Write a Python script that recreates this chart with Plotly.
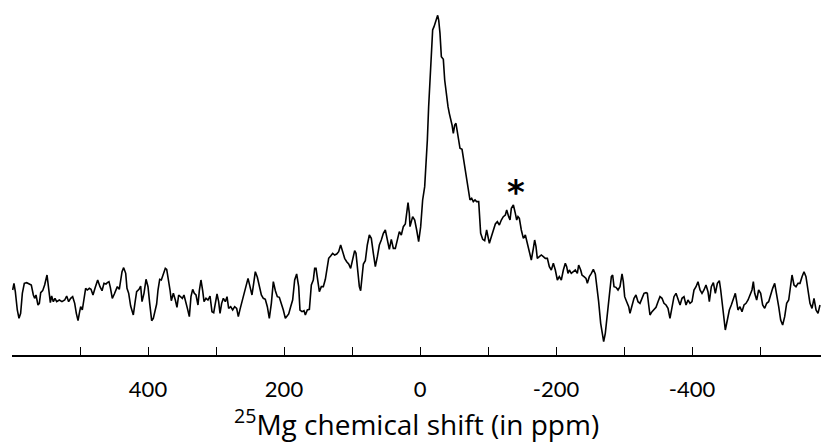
import plotly.graph_objects as go

# 25Mg chemical shift (ppm) and intensity (arbitrary units)
ppm = [
    599.0, 597.1, 595.1, 592.2, 589.7, 587.3, 584.8, 581.9, 578.4, 574.5, 571.6, 568.6, 566.7, 564.7,
    561.8, 559.8, 557.8, 554.9, 552.0, 548.5, 546.1, 543.6, 541.7, 539.2, 536.8, 534.3, 530.4, 526.5,
    522.5, 519.6, 516.7, 513.7, 510.8, 507.8, 505.4, 502.9, 501.0, 499.0, 496.6, 494.1, 491.7, 489.2,
    486.3, 483.8, 480.9, 477.5, 474.0, 470.6, 467.6, 464.7, 461.8, 459.8, 457.4, 455.4, 452.5, 449.5,
    447.1, 445.1, 442.2, 440.2, 438.2, 435.8, 432.8, 430.9, 428.4, 425.5, 421.6, 419.1, 416.7, 413.2,
    410.8, 408.8, 405.9, 402.9, 400.0, 397.5, 394.6, 392.2, 389.2, 387.3, 385.3, 382.8, 380.4, 377.5,
    374.5, 372.5, 369.6, 367.6, 365.7, 362.7, 359.8, 357.4, 354.9, 352.0, 349.5, 347.1, 344.1, 341.7,
    339.2, 336.8, 334.3, 331.9, 329.4, 326.5, 324.5, 322.1, 319.6, 317.6, 314.7, 311.8, 308.8, 305.9,
    303.4, 301.0, 298.5, 296.1, 294.1, 291.7, 289.2, 286.3, 283.8, 281.4, 278.4, 275.5, 272.5, 269.6,
    267.2, 264.7, 262.3, 258.8, 255.9, 252.9, 250.0, 247.1, 244.6, 242.2, 239.2, 236.3, 233.3, 230.4,
    227.5, 224.5, 221.6, 218.6, 215.7, 212.7, 209.8, 206.9, 203.9, 201.0, 198.0, 195.1, 193.1, 190.2,
    187.3, 184.3, 181.4, 178.4, 176.5, 173.5, 170.6, 168.6, 165.7, 162.7, 159.8, 156.9, 154.9, 152.9,
    151.0, 148.0, 145.1, 142.2, 139.2, 137.3, 134.3, 131.4, 128.4, 125.5, 122.5, 119.6, 116.7, 113.7,
    110.8, 107.8, 104.9, 102.0, 99.0, 96.1, 94.1, 92.2, 89.2, 87.3, 85.3, 83.3, 80.4, 77.5,
    74.5, 71.6, 68.6, 65.7, 62.7, 59.8, 56.9, 53.9, 51.0, 48.0, 45.1, 42.2, 39.2, 36.3,
    33.3, 30.4, 27.5, 24.5, 21.6, 19.6, 17.6, 15.7,
    14.7, 10.8, 7.8, 4.9, 2.0, -1.0, -3.9, -6.9, -8.8, -10.8, -12.7, -14.7, -16.7, -18.6,
    -20.6, -22.5, -24.5, -26.0, -27.5, -29.4, -31.4, -34.3, -36.3, -38.2, -41.2, -43.1, -45.1, -47.1,
    -49.0, -51.0, -52.9, -54.9, -56.9, -58.8, -61.8, -63.7, -66.2, -68.6, -71.1, -73.5, -76.0, -78.4,
    -80.9, -83.3, -86.3, -87.3, -89.2, -92.2, -95.1, -98.0, -100.0, -102.0, -104.9, -107.8, -110.8, -113.7,
    -116.7, -119.6, -122.5, -125.5, -127.5, -130.4, -132.4, -134.3, -137.3, -140.2, -142.2, -144.1, -146.1, -149.0,
    -152.0, -154.9, -157.8, -160.8, -163.7, -166.7, -168.6, -170.6, -172.5, -175.5, -178.4, -181.4, -184.3, -187.3,
    -190.2, -193.1, -196.1, -199.0, -202.0, -204.9, -207.8, -210.8, -213.7, -215.7, -217.6, -219.6, -222.5, -225.5,
    -228.4, -231.4, -233.3, -236.3, -238.2, -241.2, -244.1, -246.1, -249.0, -252.0, -254.9, -257.8, -259.8, -262.7,
    -265.7, -268.1, -270.1, -272.5, -275.5, -278.4, -281.4, -283.3, -285.3, -288.2, -291.2, -294.1, -297.1, -299.0,
    -301.0, -303.9, -306.9, -308.8, -311.8, -314.7, -317.6, -320.6, -323.5, -326.5, -329.4, -332.4, -334.3, -336.3,
    -338.2, -341.2, -344.1, -347.1, -350.0, -352.9, -355.9, -358.8, -361.8, -364.7, -367.6, -370.6, -373.5, -376.5,
    -379.4, -382.4, -385.3, -388.2, -391.2, -394.1, -397.1, -400.0, -402.9, -405.9, -408.8, -411.8, -414.7, -417.6,
    -420.6, -423.5, -425.5, -428.4, -431.4, -434.3, -437.3, -440.2, -442.2, -444.1, -446.1, -449.0, -452.0, -454.9,
    -457.8, -460.8, -463.7, -465.7, -467.6, -470.6, -473.5, -476.5, -479.4, -482.4, -485.3, -488.2, -490.2, -492.2,
    -495.1, -498.0, -501.0, -503.9, -506.9, -509.8, -512.7, -515.7, -518.6, -521.6, -524.5, -527.5, -530.4, -533.3,
    -536.3, -539.2, -542.2, -545.1, -547.1, -550.0, -552.9, -555.9, -558.8, -561.8, -564.7, -567.6, -570.6, -573.5,
    -576.5, -579.4, -582.4, -585.3, -588.2,
]

intensity = [
    19.5, 21.5, 19.0, 13.5, 11.0, 12.5, 18.5, 21.5, 21.7, 21.3, 21.0, 18.0, 17.0, 18.0,
    15.0, 15.5, 18.7, 19.3, 21.0, 24.0, 20.5, 15.7, 17.7, 16.0, 17.0, 16.0, 16.5, 16.0,
    16.5, 17.7, 16.0, 17.0, 17.5, 15.5, 12.5, 10.3, 12.5, 14.5, 13.5, 16.7, 20.0, 19.5,
    20.0, 19.7, 18.0, 20.3, 22.5, 20.5, 19.3, 21.5, 21.3, 21.7, 22.0, 20.3, 17.0, 18.3,
    19.3, 20.5, 19.7, 22.5, 25.0, 26.2, 24.5, 20.0, 18.5, 14.7, 12.0, 15.7, 19.0, 19.7,
    20.7, 16.0, 18.5, 22.7, 20.5, 15.5, 10.3, 11.0, 13.5, 15.3, 19.5, 22.7, 22.5, 24.0,
    26.0, 25.7, 22.5, 19.5, 16.3, 18.5, 16.5, 14.3, 18.0, 17.5, 17.0, 18.0, 15.0, 13.7,
    11.5, 17.5, 19.7, 18.5, 18.0, 15.0, 19.3, 22.5, 19.3, 16.0, 17.0, 16.5, 17.7, 13.0,
    12.7, 15.0, 18.3, 16.0, 12.5, 15.5, 17.0, 16.0, 17.5, 14.0, 14.5, 13.5, 14.5, 14.0,
    11.5, 13.7, 15.5, 18.0, 20.5, 23.0, 20.5, 18.0, 21.5, 25.0, 23.3, 20.5, 18.0, 17.0,
    16.7, 14.5, 11.0, 15.5, 22.0, 19.3, 17.5, 17.3, 15.5, 13.5, 11.0, 12.0, 12.3, 14.5,
    16.5, 22.5, 24.3, 20.5, 13.5, 13.0, 13.3, 12.0, 13.5, 13.7, 21.0, 22.5, 26.0, 26.0,
    22.5, 19.0, 20.5, 20.5, 22.7, 25.7, 29.0, 29.7, 30.5, 30.0, 30.3, 31.0, 33.0, 31.0,
    29.0, 28.0, 27.3, 26.0, 28.5, 31.3, 30.5, 25.5, 20.5, 19.3, 23.5, 27.3, 28.3, 33.0,
    36.0, 35.0, 30.5, 26.5, 29.5, 33.0, 34.5, 36.5, 37.5, 34.5, 31.7, 34.7, 32.0, 32.0,
    34.5, 37.0, 36.0, 38.5, 39.3, 42.5, 45.7, 42.5,
    38.5, 41.5, 40.5, 37.5, 34.0, 38.5, 46.5, 50.5, 56.5, 64.5, 74.5, 82.5, 89.5, 97.5,
    98.5, 99.5, 100.5, 101.9, 100.5, 96.5, 89.5, 88.7, 82.5, 78.5, 74.5, 72.5, 71.0, 69.0,
    66.5, 69.0, 69.5, 67.0, 64.5, 62.0, 61.7, 59.0, 55.5, 52.0, 49.0, 46.5, 47.0, 46.0,
    46.5, 46.0, 46.0, 42.5, 36.5, 34.7, 34.3, 37.5, 35.0, 33.5, 35.5, 37.5, 39.3, 40.0,
    39.0, 40.5, 41.5, 42.0, 43.5, 41.5, 40.5, 44.0, 45.0, 42.5, 40.5, 41.5, 41.0, 37.5,
    35.0, 36.0, 33.5, 30.5, 28.5, 32.0, 34.5, 32.5, 29.0, 29.5, 30.0, 29.5, 29.0, 29.0,
    26.5, 25.5, 27.5, 25.5, 22.5, 23.5, 22.5, 25.5, 27.5, 26.5, 24.5, 25.5, 24.5, 25.0,
    25.5, 24.5, 27.0, 25.5, 24.0, 23.5, 23.0, 21.5, 23.5, 24.5, 25.7, 24.3, 21.5, 16.0,
    9.5, 5.5, 4.0, 6.5, 12.5, 18.5, 23.5, 24.0, 20.5, 20.3, 19.5, 20.5, 24.3, 22.0,
    17.5, 16.0, 14.5, 12.5, 15.0, 17.0, 18.0, 16.0, 15.5, 17.0, 18.5, 18.7, 18.5, 15.0,
    12.0, 13.0, 13.5, 14.3, 16.0, 17.5, 17.0, 15.5, 15.0, 14.0, 11.0, 15.0, 17.5, 18.5,
    17.0, 15.0, 17.0, 17.5, 15.0, 16.5, 15.5, 16.0, 19.5, 20.5, 22.0, 19.5, 18.5, 19.5,
    21.0, 19.0, 16.0, 20.5, 21.7, 18.5, 21.5, 22.3, 19.5, 15.5, 11.5, 7.5, 10.5, 13.5,
    15.0, 16.5, 18.5, 16.0, 13.5, 14.5, 13.0, 15.0, 15.5, 16.5, 18.0, 19.5, 22.0, 18.5,
    16.5, 19.5, 18.5, 15.0, 14.0, 15.5, 16.0, 18.5, 20.0, 21.5, 18.5, 14.5, 10.5, 9.0,
    11.5, 15.5, 16.5, 20.5, 24.0, 21.0, 20.5, 21.5, 21.5, 23.5, 25.0, 23.5, 19.5, 15.5,
    14.0, 17.0, 13.5, 12.5, 15.0,
]

tick_vals = [400, 200, 0, -200, -400]
tick_text = ["400", "200", "0", "-200", "-400"]

star_ppm = -141
star_int = 51

fig = go.Figure()
fig.add_trace(go.Scatter(
    x=ppm, y=intensity, mode="lines",
    line=dict(color="black", width=1.6),
    showlegend=False, hoverinfo="skip",
))

fig.add_annotation(
    x=star_ppm, y=star_int, xref="x", yref="y",
    text="<b>*</b>", showarrow=False,
    font=dict(family="DejaVu Sans", size=34, color="black"),
    xanchor="center", yanchor="middle", yshift=-7,
)

fig.add_annotation(
    x=0.5, y=-0.19, xref="paper", yref="paper",
    text="<sup>25</sup>Mg chemical shift (in ppm)", showarrow=False,
    font=dict(family="Open Sans", size=28, color="black"),
    xanchor="center", yanchor="middle",
)

fig.update_layout(
    width=821, height=442,
    margin=dict(l=12, r=0, t=0, b=87),
    paper_bgcolor="white", plot_bgcolor="white",
    xaxis=dict(
        range=[600, -589.7], tickmode="array", tickvals=tick_vals, ticktext=tick_text,
        ticks="inside", ticklen=8, tickwidth=1.3, tickcolor="black",
        minor=dict(tick0=0, dtick=100, ticks="inside", ticklen=8, tickwidth=1.3,
                   tickcolor="black", showgrid=False),
        showline=True, linecolor="black", linewidth=1.6,
        showgrid=False, zeroline=False,
        tickfont=dict(family="Lato", size=22, color="black"),
        ticklabelstandoff=14,
    ),
    yaxis=dict(
        range=[0, 106.5], visible=False, showgrid=False, zeroline=False,
    ),
)

fig.write_html("out.html")
